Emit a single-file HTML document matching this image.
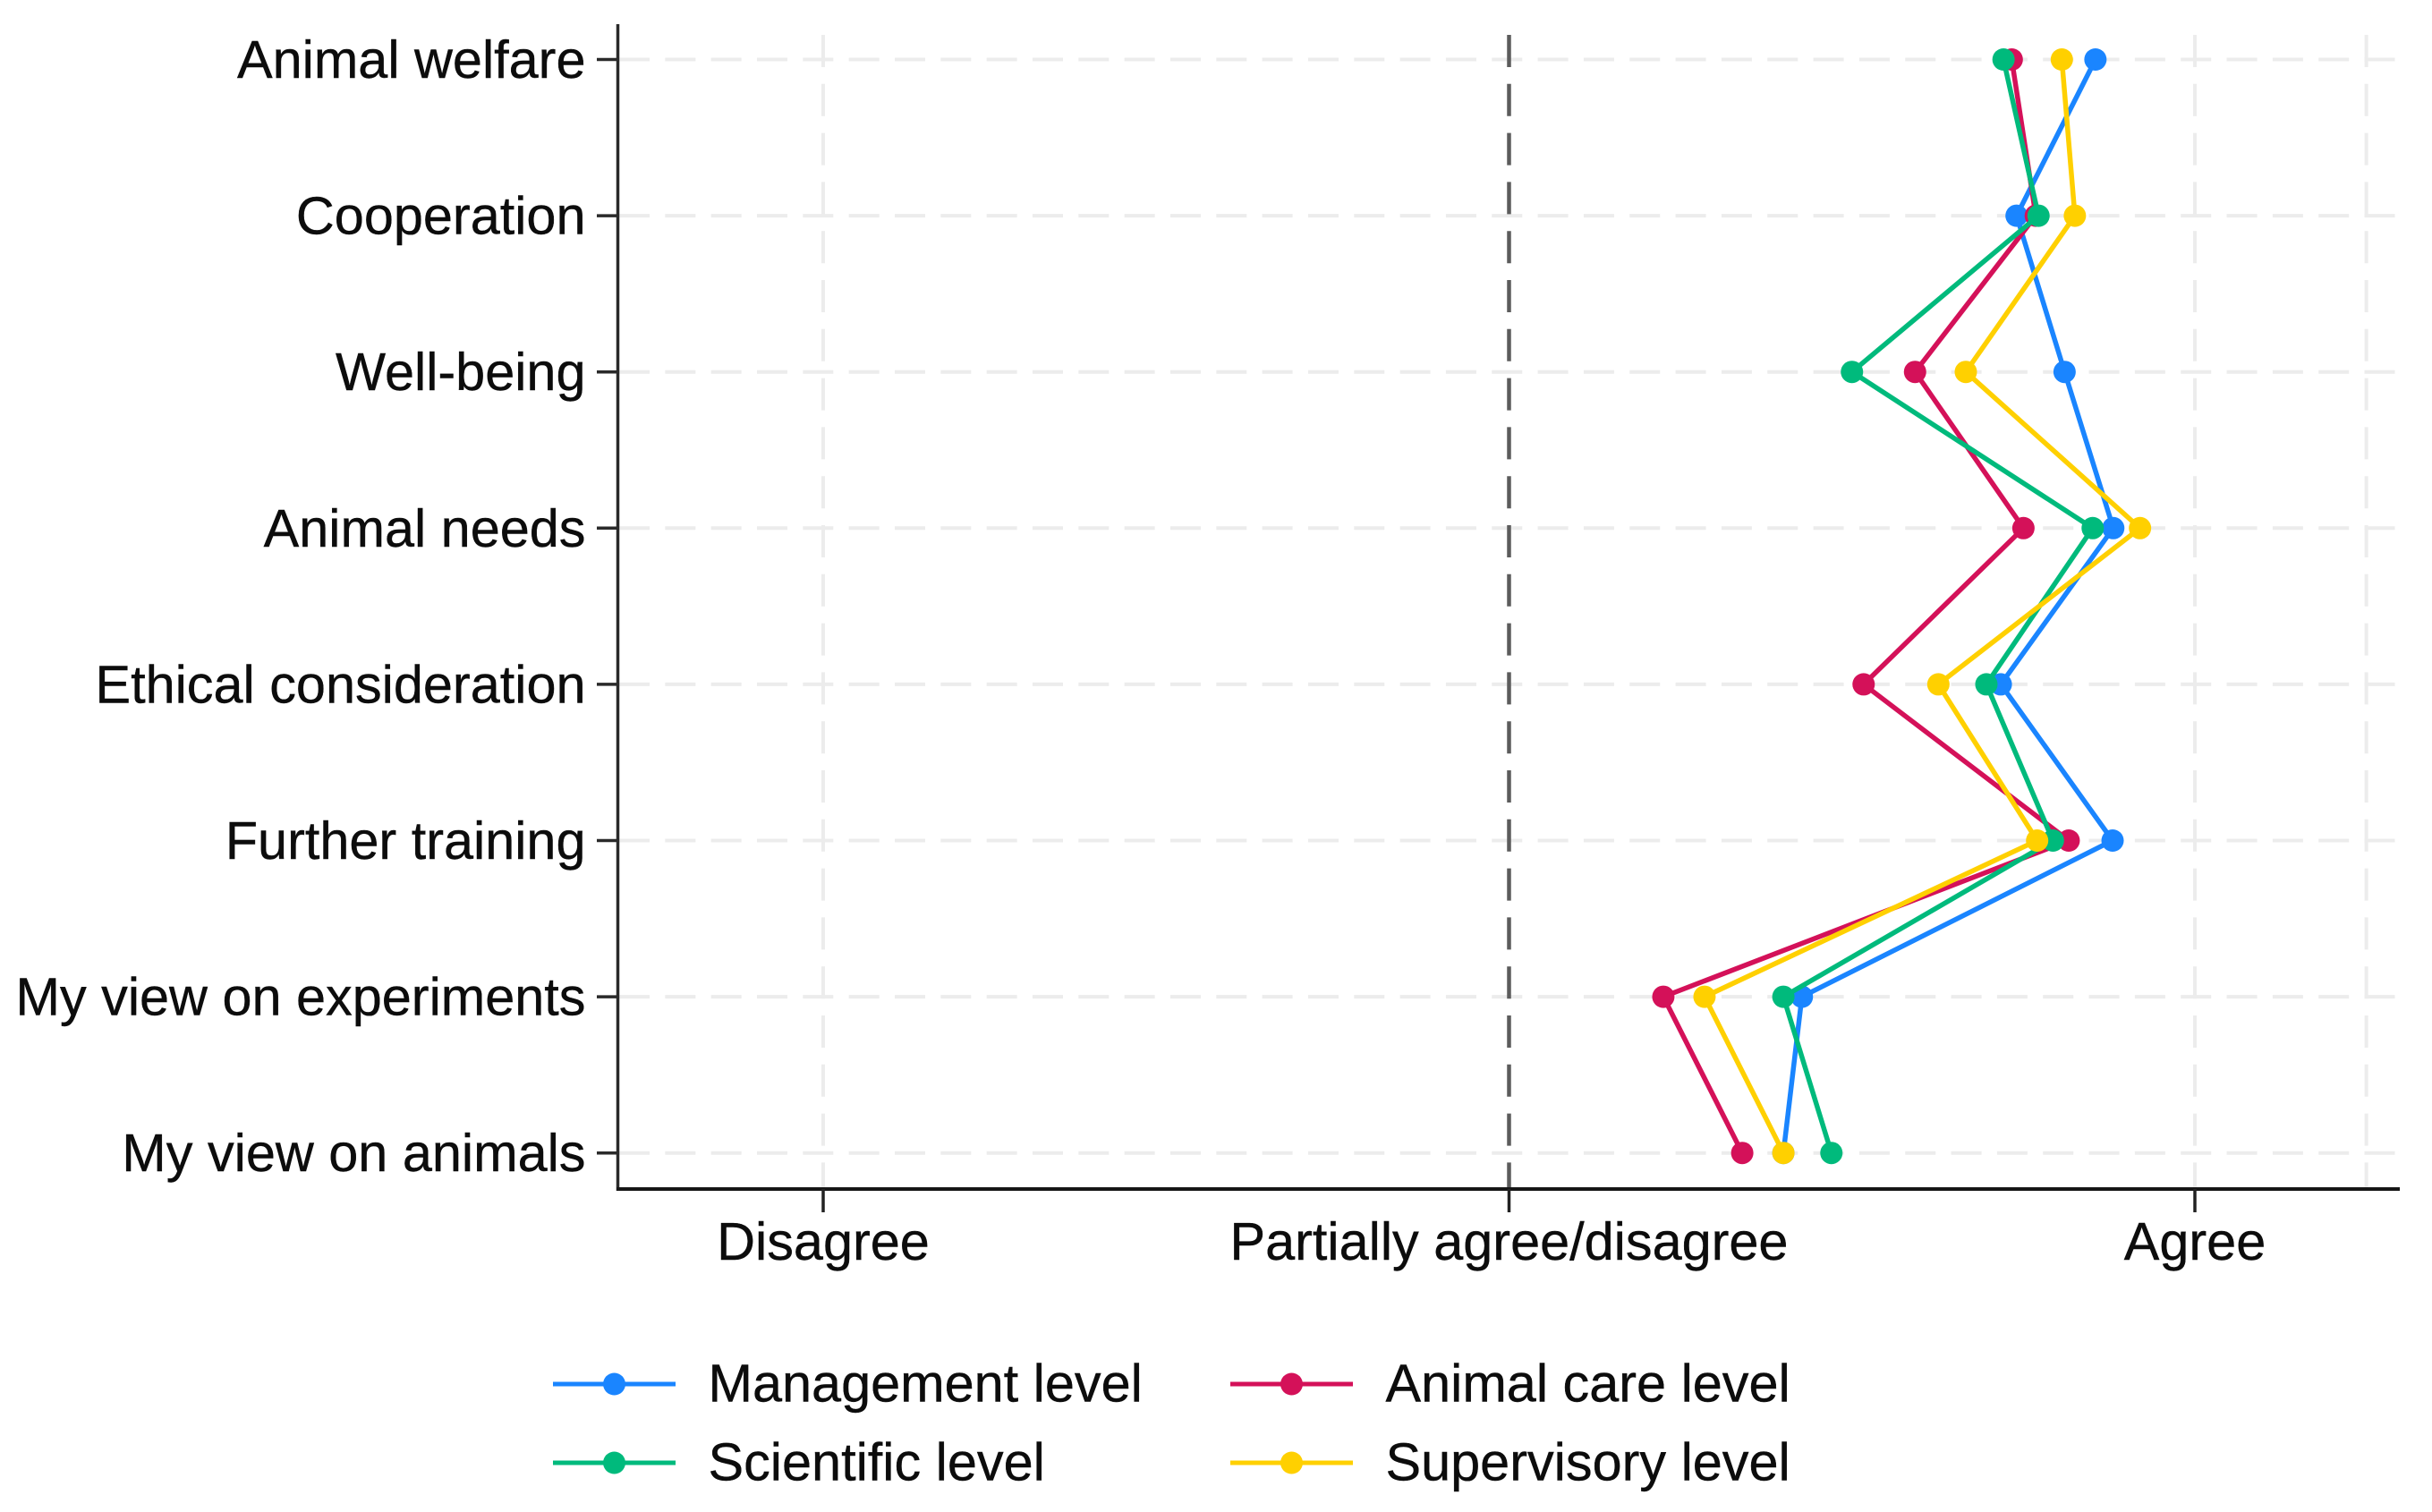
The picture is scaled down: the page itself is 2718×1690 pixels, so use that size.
<!DOCTYPE html>
<html lang="en">
<head>
<meta charset="utf-8">
<title>Attitude chart</title>
<style>
html,body{margin:0;padding:0;background:#fff;}
svg{display:block;}
text{font-family:"Liberation Sans",Arial,sans-serif;font-size:59.4px;fill:#0c0c0c;stroke:#0c0c0c;stroke-width:0.4px;}
</style>
</head>
<body>
<svg id="chart" xmlns="http://www.w3.org/2000/svg" width="2718" height="1690" viewBox="0 0 2718 1690">
<rect x="0" y="0" width="2718" height="1690" fill="#ffffff"/>
<g id="grid"></g>
<g id="axes"></g>
<g id="series"></g>
<g id="legend"></g>
</svg>
<script>
const categories = ["Animal welfare","Cooperation","Well-being","Animal needs","Ethical consideration","Further training","My view on experiments","My view on animals"];
const xTickValues = [1, 2, 3];
const xTickLabels = ["Disagree","Partially agree/disagree","Agree"];
const xGridValues = [1, 2, 3, 3.25];
const referenceValue = 2;
const managementLevel = [2.855, 2.740, 2.810, 2.881, 2.717, 2.880, 2.427, 2.400];
const animalCareLevel = [2.733, 2.768, 2.592, 2.750, 2.517, 2.816, 2.225, 2.340];
const scientificLevel = [2.721, 2.772, 2.500, 2.851, 2.696, 2.793, 2.400, 2.470];
const supervisoryLevel = [2.806, 2.825, 2.666, 2.920, 2.626, 2.770, 2.285, 2.400];
const seriesNames = ["Management level","Animal care level","Scientific level","Supervisory level"];

const NS = "http://www.w3.org/2000/svg";
const seriesData = [managementLevel, animalCareLevel, scientificLevel, supervisoryLevel];
const seriesColors = ["#1a85ff", "#d41159", "#00ba7c", "#ffd000"];

function xScale(v) { return 920 + (v - 1) * 766.5; }
function yScale(i) { return 66.5 + i * 174.6; }

function make(tag, attrs, parent) {
  const el = document.createElementNS(NS, tag);
  for (const k in attrs) el.setAttribute(k, attrs[k]);
  parent.appendChild(el);
  return el;
}

const grid = document.getElementById("grid");
const axes = document.getElementById("axes");
const seriesGroup = document.getElementById("series");
const legend = document.getElementById("legend");

categories.forEach(function (c, i) {
  const g = make("line", {x1: 692, x2: 2680, y1: yScale(i), y2: yScale(i), stroke: "#ececec", "stroke-width": 4, "stroke-dasharray": "34 17.33"}, grid);
  
  
});

xGridValues.forEach(function (v) {
  const g = make("line", {x1: xScale(v), x2: xScale(v), y1: 39, y2: 1328, stroke: "#ececec", "stroke-width": 4, "stroke-dasharray": "36 18.8"}, grid);
  
  
});

const refLine = make("line", {x1: xScale(referenceValue), x2: xScale(referenceValue), y1: 39, y2: 1328, stroke: "#5c5c5c", "stroke-width": 4.5, "stroke-dasharray": "36 18.8"}, grid);



const yAxis = make("line", {x1: 690.5, x2: 690.5, y1: 27, y2: 1331, stroke: "#2a2a2a", "stroke-width": 3.5}, axes);



const xAxis = make("line", {x1: 689, x2: 2682, y1: 1329, y2: 1329, stroke: "#161616", "stroke-width": 4}, axes);



categories.forEach(function (c, i) {
  const t = make("line", {x1: 667, x2: 690, y1: yScale(i), y2: yScale(i), stroke: "#2a2a2a", "stroke-width": 3.5}, axes);
  
  
  const l = make("text", {x: 654.5, y: yScale(i) + 20.5, "text-anchor": "end"}, axes);
  l.textContent = c;
  
  
});

xTickValues.forEach(function (v, i) {
  const t = make("line", {x1: xScale(v), x2: xScale(v), y1: 1329, y2: 1355, stroke: "#222222", "stroke-width": 3.5}, axes);
  
  
  const l = make("text", {x: xScale(v), y: 1408, "text-anchor": "middle"}, axes);
  l.textContent = xTickLabels[i];
  
  
});

seriesData.forEach(function (values, s) {
  const g = make("g", {}, seriesGroup);
  
  
  const pts = values.map(function (v, i) { return xScale(v).toFixed(1) + "," + yScale(i).toFixed(1); }).join(" ");
  const line = make("polyline", {points: pts, fill: "none", stroke: seriesColors[s], "stroke-width": 5.5, "stroke-linejoin": "miter"}, g);
  
  
  values.forEach(function (v, i) {
    const p = make("circle", {cx: xScale(v), cy: yScale(i), r: 12.5, fill: seriesColors[s]}, g);
    
    
  });
});

const legendOrder = [0, 1, 2, 3];
legendOrder.forEach(function (s, n) {
  const col = n % 2;
  const row = Math.floor(n / 2);
  const x0 = col === 0 ? 618 : 1375;
  const cy = row === 0 ? 1547 : 1635;
  const color = seriesColors[s];
  const g = make("g", {}, legend);
  
  
  const ln = make("line", {x1: x0, x2: x0 + 137, y1: cy, y2: cy, stroke: color, "stroke-width": 5}, g);
  
  
  const m = make("circle", {cx: x0 + 68.5, cy: cy, r: 12.5, fill: color}, g);
  
  
  const t = make("text", {x: x0 + 173.5, y: cy + 19.5}, g);
  t.textContent = seriesNames[s];
  
  
});
</script>
</body>
</html>
